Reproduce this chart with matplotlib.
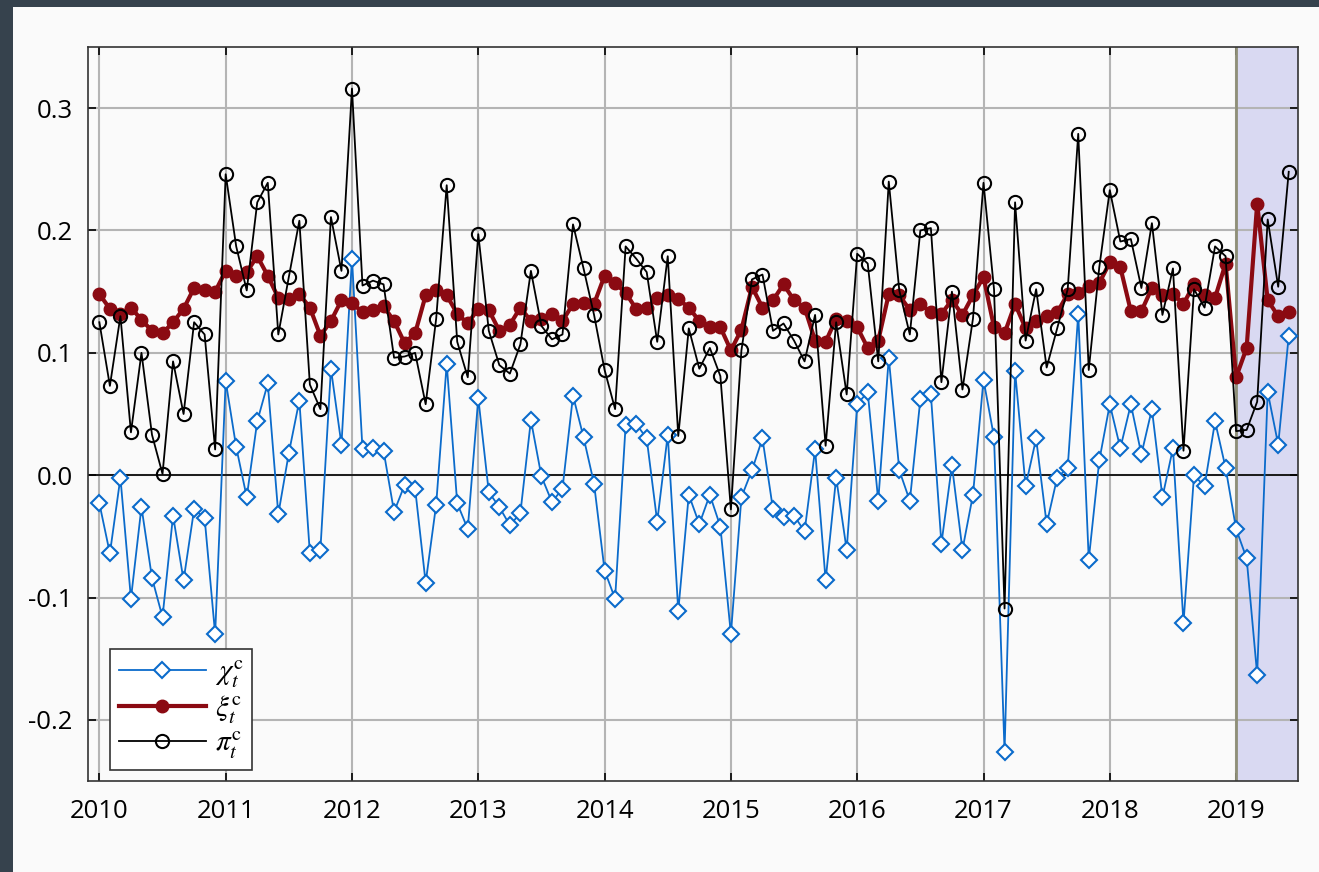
import numpy as np
import matplotlib
matplotlib.use("Agg")
import matplotlib.pyplot as plt
from matplotlib.patches import Rectangle
from matplotlib.ticker import FixedLocator, FuncFormatter

# monthly series, Jan 2010 .. Jun 2019
chi = [-0.023, -0.064, -0.002, -0.101, -0.026, -0.084, -0.116, -0.033, -0.086, -0.028, -0.035, -0.130,
       0.077, 0.023, -0.018, 0.044, 0.075, -0.032, 0.018, 0.061, -0.064, -0.061, 0.087, 0.025,
       0.177, 0.021, 0.022, 0.020, -0.030, -0.008, -0.011, -0.088, -0.024, 0.091, -0.023, -0.044,
       0.063, -0.014, -0.026, -0.041, -0.031, 0.045, -0.001, -0.022, -0.011, 0.065, 0.031, -0.007,
       -0.078, -0.101, 0.041, 0.042, 0.030, -0.038, 0.033, -0.111, -0.016, -0.040, -0.016, -0.042,
       -0.130, -0.018, 0.004, 0.030, -0.028, -0.034, -0.033, -0.046, 0.021, -0.086, -0.002, -0.061,
       0.058, 0.068, -0.021, 0.096, 0.004, -0.021, 0.062, 0.066, -0.056, 0.008, -0.061, -0.016,
       0.078, 0.031, -0.226, 0.085, -0.009, 0.030, -0.040, -0.002, 0.006, 0.132, -0.069, 0.012,
       0.058, 0.022, 0.058, 0.017, 0.054, -0.018, 0.022, -0.121, 0.000, -0.009, 0.044, 0.006,
       -0.044, -0.068, -0.163, 0.068, 0.025, 0.114]

xi = [0.148, 0.136, 0.132, 0.137, 0.127, 0.118, 0.116, 0.125, 0.136, 0.153, 0.151, 0.150,
      0.167, 0.163, 0.166, 0.179, 0.163, 0.145, 0.144, 0.148, 0.137, 0.114, 0.126, 0.143,
      0.141, 0.133, 0.135, 0.138, 0.126, 0.108, 0.116, 0.147, 0.151, 0.147, 0.132, 0.124,
      0.136, 0.135, 0.118, 0.123, 0.137, 0.126, 0.128, 0.132, 0.126, 0.140, 0.141, 0.140,
      0.163, 0.157, 0.149, 0.136, 0.137, 0.145, 0.147, 0.144, 0.137, 0.126, 0.121, 0.121,
      0.102, 0.119, 0.154, 0.137, 0.143, 0.156, 0.143, 0.137, 0.110, 0.109, 0.128, 0.126,
      0.121, 0.104, 0.110, 0.148, 0.147, 0.135, 0.140, 0.133, 0.132, 0.143, 0.131, 0.147,
      0.162, 0.121, 0.116, 0.140, 0.120, 0.126, 0.130, 0.133, 0.148, 0.149, 0.155, 0.157,
      0.174, 0.170, 0.134, 0.134, 0.153, 0.147, 0.148, 0.140, 0.156, 0.147, 0.145, 0.173,
      0.080, 0.104, 0.222, 0.143, 0.130, 0.133]

pi = [0.125, 0.073, 0.130, 0.035, 0.100, 0.033, 0.001, 0.093, 0.050, 0.125, 0.115, 0.021,
      0.246, 0.187, 0.151, 0.223, 0.239, 0.115, 0.162, 0.208, 0.074, 0.054, 0.211, 0.167,
      0.316, 0.155, 0.159, 0.156, 0.096, 0.097, 0.100, 0.058, 0.128, 0.237, 0.109, 0.080,
      0.197, 0.118, 0.090, 0.083, 0.107, 0.167, 0.122, 0.111, 0.115, 0.205, 0.169, 0.131,
      0.086, 0.054, 0.187, 0.177, 0.166, 0.109, 0.179, 0.032, 0.120, 0.087, 0.104, 0.081,
      -0.028, 0.102, 0.160, 0.164, 0.118, 0.124, 0.110, 0.093, 0.131, 0.024, 0.125, 0.066,
      0.181, 0.173, 0.093, 0.240, 0.151, 0.115, 0.200, 0.202, 0.076, 0.150, 0.070, 0.128,
      0.239, 0.152, -0.109, 0.223, 0.110, 0.152, 0.088, 0.120, 0.152, 0.279, 0.086, 0.170,
      0.233, 0.191, 0.193, 0.153, 0.206, 0.131, 0.169, 0.020, 0.152, 0.137, 0.187, 0.179,
      0.036, 0.037, 0.060, 0.209, 0.154, 0.248]

start_year = 2010
year_ticks = list(range(2010, 2020))
y_ticks = [-0.2, -0.1, 0.0, 0.1, 0.2, 0.3]
shade_start = 2019

t = start_year + np.arange(len(chi)) / 12.0

plt.rcParams['font.family'] = ['Open Sans', 'DejaVu Sans']
plt.rcParams['mathtext.fontset'] = 'stix'

fig = plt.figure(figsize=(13.19, 8.72), dpi=100, facecolor='#36424d')
# white panel inside the dark border
fig.patches.append(Rectangle((13 / 1319, 0), 1 - 13 / 1319, 1 - 7 / 872,
                             transform=fig.transFigure, facecolor='#fafafa',
                             edgecolor='none', zorder=-10))

ax = fig.add_axes([88 / 1319, 1 - 781 / 872, (1298 - 88) / 1319, (781 - 47) / 872])
ax.set_facecolor('#fafafa')

ax.set_xlim(2009.91, 2019.49)
ax.set_ylim(-0.25, 0.35)

# forecast region
ax.axvspan(shade_start, 2019.49, color='#d9d9f2', zorder=0.5, lw=0)

ax.grid(True, color='#b4b4b4', linewidth=1.5, zorder=1)
ax.set_axisbelow(True)
ax.axhline(0, color='black', linewidth=1.2, zorder=2)
ax.axvline(shade_start, color='#8f8f78', linewidth=2.0, zorder=2)

ax.plot(t, chi, color='#0b6bcb', linewidth=1.3, marker='D', markersize=8,
        markerfacecolor='white', markeredgecolor='#0b6bcb', markeredgewidth=1.5,
        label=r'$\chi_t^{\mathrm{c}}$', zorder=3)
ax.plot(t, xi, color='#8b0a12', linewidth=3.0, marker='o', markersize=9,
        markerfacecolor='#8b0a12', markeredgecolor='#8b0a12',
        label=r'$\xi_t^{\mathrm{c}}$', zorder=4)
ax.plot(t, pi, color='black', linewidth=1.3, marker='o', markersize=9.5,
        markerfacecolor='none', markeredgecolor='black', markeredgewidth=1.5,
        label=r'$\pi_t^{\mathrm{c}}$', zorder=5)

ax.xaxis.set_major_locator(FixedLocator(year_ticks))
ax.yaxis.set_major_locator(FixedLocator(y_ticks))
ax.yaxis.set_major_formatter(FuncFormatter(lambda v, p: f'{v:.1f}'.replace('\u2212', '-')))
ax.tick_params(direction='in', length=6, width=1.2, top=True, right=True,
               labelsize=18.5, colors='black')
ax.tick_params(axis='y', pad=11)
ax.tick_params(axis='x', pad=13)

for s in ax.spines.values():
    s.set_color('#333333')
    s.set_linewidth(1.2)

leg = ax.legend(loc='lower left', bbox_to_anchor=(0.018, 0.015), fontsize=21,
                handlelength=3.0, frameon=True, fancybox=False, borderpad=0.3,
                labelspacing=0.12, handletextpad=0.3, borderaxespad=0)
leg.get_frame().set_edgecolor('#333333')
leg.get_frame().set_facecolor('white')
leg.get_frame().set_alpha(1)
leg.get_frame().set_linewidth(1.2)

fig.savefig('out.png', dpi=100, facecolor=fig.get_facecolor())
